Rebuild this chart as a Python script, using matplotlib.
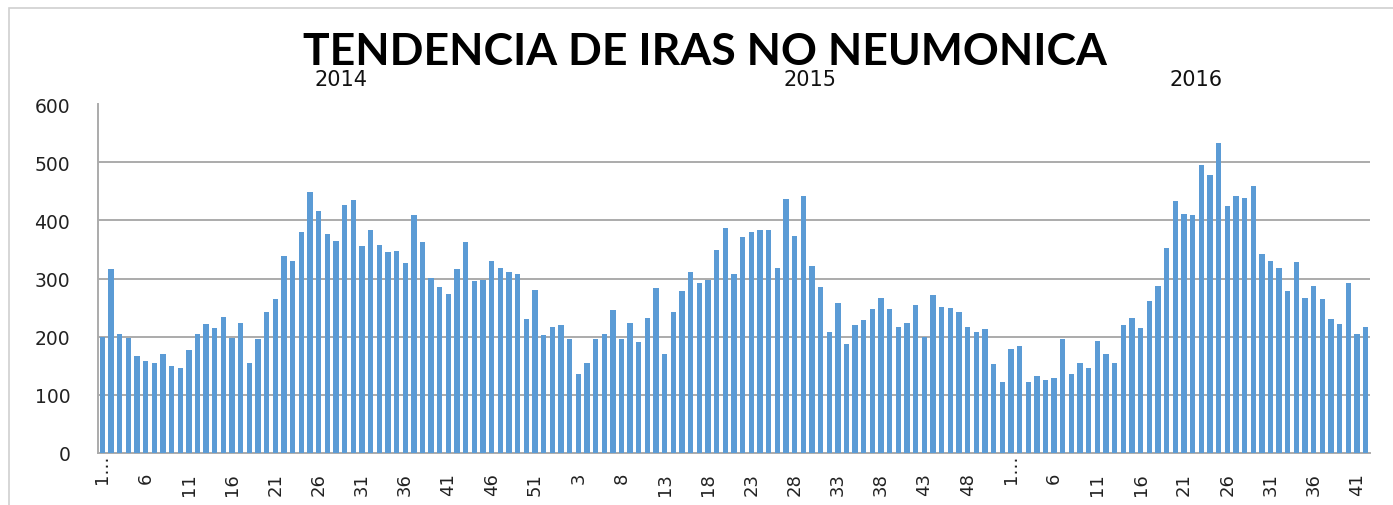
import matplotlib
matplotlib.use("Agg")
import matplotlib.pyplot as plt
import matplotlib.transforms as mtransforms
from matplotlib.patches import Rectangle

# ---- data (weekly counts) ----
weeks_2014 = [200, 316, 204, 198, 167, 158, 154, 169, 150, 145,
              177, 204, 222, 215, 234, 198, 224, 154, 196, 242,
              265, 338, 330, 381, 449, 417, 377, 364, 427, 436,
              356, 383, 358, 346, 348, 327, 409, 363, 301, 285,
              273, 316, 363, 295, 297, 330, 318, 311, 308, 230,
              281, 203, 216]
weeks_2015 = [220, 195, 136, 155, 196, 204, 245, 195, 224, 191,
              232, 283, 169, 242, 278, 311, 293, 297, 349, 387,
              308, 371, 380, 384, 383, 318, 437, 373, 442, 322,
              285, 208, 258, 187, 219, 228, 247, 266, 247, 216,
              224, 254, 199, 272, 251, 249, 243, 216, 208, 213,
              152, 121]
weeks_2016 = [178, 184, 121, 132, 125, 128, 196, 136, 155, 146,
              193, 169, 154, 219, 232, 215, 261, 287, 353, 434,
              411, 409, 495, 479, 534, 425, 442, 438, 459, 342,
              330, 318, 278, 328, 266, 287, 265, 230, 222, 293,
              205, 216]

years = ["2014", "2015", "2016"]
title = "TENDENCIA DE IRAS NO NEUMONICA"

values = weeks_2014 + weeks_2015 + weeks_2016
week_labels = ([str(i) for i in range(1, len(weeks_2014) + 1)] +
               [str(i) for i in range(1, len(weeks_2015) + 1)] +
               [str(i) for i in range(1, len(weeks_2016) + 1)])
# first week of a year is shown truncated
week_labels[0] = "1…"
week_labels[len(weeks_2014) + len(weeks_2015)] = "1…"

W, H = 1393, 506
fig = plt.figure(figsize=(W / 100, H / 100), dpi=100)
ax = fig.add_axes([98 / W, 1 - 453.5 / H, (1370 - 98) / W, (453.5 - 105.5) / H])

x = list(range(len(values)))
ax.bar(x, values, width=0.62, color="#5B9BD5", zorder=3)

ax.set_xlim(-0.5, len(values) - 0.5)
ax.set_ylim(0, 600)
ax.set_yticks(range(0, 601, 100))
ax.yaxis.grid(True, color="#ababab", linewidth=1.4, zorder=0)
ax.set_axisbelow(True)

tick_pos = x[::5]
ax.set_xticks(tick_pos)
ax.set_xticklabels([week_labels[i] for i in tick_pos], rotation=90,
                   fontsize=13, color="#222222", family="DejaVu Sans")
ax.tick_params(axis="x", length=0, pad=14)
ax.tick_params(axis="y", length=0, pad=20, labelsize=13.5, labelcolor="#222222")

# truncated labels sit closer to the axis
for lab in ax.get_xticklabels():
    if lab.get_text() == "1…":
        lab.set_transform(lab.get_transform() +
                          mtransforms.ScaledTranslation(0, 18 / 100, fig.dpi_scale_trans))

for s in ["top", "right"]:
    ax.spines[s].set_visible(False)
for s in ["left", "bottom"]:
    ax.spines[s].set_color("#ababab")
    ax.spines[s].set_linewidth(1.4)

fig.text(705 / W, 1 - 52 / H, title, ha="center", va="center",
         fontsize=32, fontweight="bold", family="Lato", color="#000000")
year_x = [341, 810, 1196]
for yr, xx in zip(years, year_x):
    fig.text(xx / W, 1 - 80 / H, yr, ha="center", va="center",
             fontsize=15, color="#111111", family="DejaVu Sans")

# outer chart border (left and top visible)
fig.patches.append(Rectangle((8.5 / W, -0.2), 1.2, (1 - 8.5 / H) + 0.2,
                             transform=fig.transFigure, fill=False,
                             edgecolor="#d0d0d0", linewidth=1.2))

fig.savefig("out.png", dpi=100)
